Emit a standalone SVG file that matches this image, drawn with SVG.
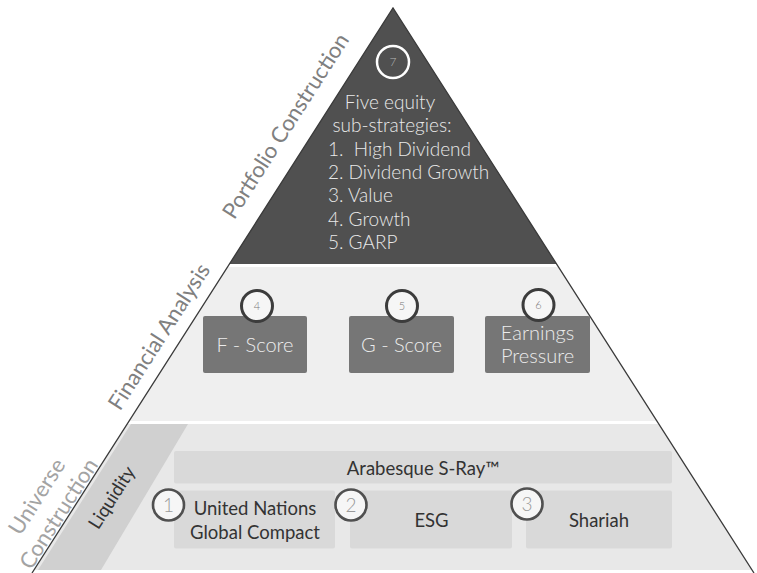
<svg xmlns="http://www.w3.org/2000/svg" width="757" height="573" viewBox="0 0 757 573">
<style>
.lt{font-family:Lato,"Liberation Sans",sans-serif;font-weight:300}
.rg{font-family:Lato,"Liberation Sans",sans-serif;font-weight:400}
.side{font-size:22px;fill:#808080}
.side2{font-size:22px;fill:#a3a3a3}
.wt{font-size:19px;fill:#e9e9e9}
.box{fill:#767676}
.bar{fill:#d9d9d9}
.bt{font-size:18.5px;fill:#333}
.cm{fill:#f6f6f6;stroke:#3c3c3c;stroke-width:3}
.cb{fill:#f6f6f6;stroke:#505050;stroke-width:2.6}
.num{font-size:11px;fill:#7a7a7a;text-anchor:middle}
.numb{font-size:19px;fill:#9a9a9a;text-anchor:middle}
.c{text-anchor:middle}
</style>
<rect width="757" height="573" fill="#ffffff"/>
<g id="tier-portfolio">
<polygon points="393,8 556.6,264 229.4,264" fill="#505050"/>
<circle cx="393" cy="62" r="16" fill="#505050" stroke="#ffffff" stroke-width="2.5"/>
<text class="lt c" x="393" y="66" style="font-size:12px;fill:#b5b5b5">7</text>
<text class="lt wt c" x="390" y="109">Five equity</text>
<text class="lt wt c" x="392" y="132">sub-strategies:</text>
<text class="lt wt" x="328" y="156" xml:space="preserve">1.  High Dividend</text>
<text class="lt wt" x="328" y="179">2. Dividend Growth</text>
<text class="lt wt" x="328" y="202">3. Value</text>
<text class="lt wt" x="328" y="226">4. Growth</text>
<text class="lt wt" x="328" y="249">5. GARP</text>
</g>
<g id="tier-financial">
<polygon points="227.5,267 558.5,267 656.9,421 129.1,421" fill="#efefef"/>
</g>
<g id="tier-universe">
<polygon points="127.2,424 658.8,424 752.1,570 33.9,570" fill="#e8e8e8"/>
</g>
<g id="liquidity">
<path d="M134,424 L188,424 L101,570 L38,570 L131,424 Z" fill="#d0d0d0"/>
<text class="rg" transform="translate(117,501) rotate(-57.4)" text-anchor="middle" style="font-size:18.5px;fill:#333">Liquidity</text>
</g>
<g id="node-fscore">
<rect class="box" x="203" y="316" width="104" height="57" rx="2"/>
<text class="lt c" x="255" y="352" style="font-size:20px;fill:#ececec">F - Score</text>
<circle class="cm" cx="257" cy="306" r="15.5"/>
<text class="lt num" x="257" y="310">4</text>
</g>
<g id="node-gscore">
<rect class="box" x="349" y="316" width="105" height="57" rx="2"/>
<text class="lt c" x="401.5" y="352" style="font-size:20px;fill:#ececec">G - Score</text>
<circle class="cm" cx="402" cy="306" r="15.5"/>
<text class="lt num" x="402" y="310">5</text>
</g>
<g id="node-earnings">
<rect class="box" x="485" y="316" width="105" height="57" rx="2"/>
<text class="lt c" x="537.5" y="340" style="font-size:20px;fill:#ececec">Earnings</text>
<text class="lt c" x="537.5" y="363" style="font-size:20px;fill:#ececec">Pressure</text>
<circle class="cm" cx="538.5" cy="305" r="15.5"/>
<text class="lt num" x="538.5" y="309">6</text>
</g>
<g id="node-sray">
<rect class="bar" x="174" y="451" width="498" height="32.5" rx="2"/>
<text class="rg bt c" x="423" y="475">Arabesque S-Ray™</text>
</g>
<g id="node-ungc">
<rect class="bar" x="174" y="490.5" width="161" height="58" rx="2"/>
<text class="rg bt c" x="255" y="515">United Nations</text>
<text class="rg bt c" x="255" y="539">Global Compact</text>
<circle class="cb" cx="168.5" cy="505" r="15.5"/>
<text class="lt numb" x="168.5" y="512">1</text>
</g>
<g id="node-esg">
<rect class="bar" x="350" y="490.5" width="162" height="58" rx="2"/>
<text class="rg bt c" x="431.5" y="527">ESG</text>
<circle class="cb" cx="351" cy="505" r="15.5"/>
<text class="lt numb" x="351" y="512">2</text>
</g>
<g id="node-shariah">
<rect class="bar" x="526" y="490.5" width="146" height="58" rx="2"/>
<text class="rg bt c" x="599" y="527">Shariah</text>
<circle class="cb" cx="527" cy="504" r="15.5"/>
<text class="lt numb" x="527" y="511">3</text>
</g>
<g id="connectors">
<polyline points="32,573 393,8 754,573" fill="none" stroke="#3a3a3a" stroke-width="1.3"/>
</g>
<g id="side-labels">
<text class="rg side c" transform="translate(292,130) rotate(-57.4)">Portfolio Construction</text>
<text class="rg side c" transform="translate(165.5,340.7) rotate(-57.4)">Financial Analysis</text>
<text class="rg side2 c" transform="translate(43.3,500.7) rotate(-57.4)">Universe</text>
<text class="rg side2 c" transform="translate(65,517.7) rotate(-57.4)">Construction</text>
</g>
</svg>
